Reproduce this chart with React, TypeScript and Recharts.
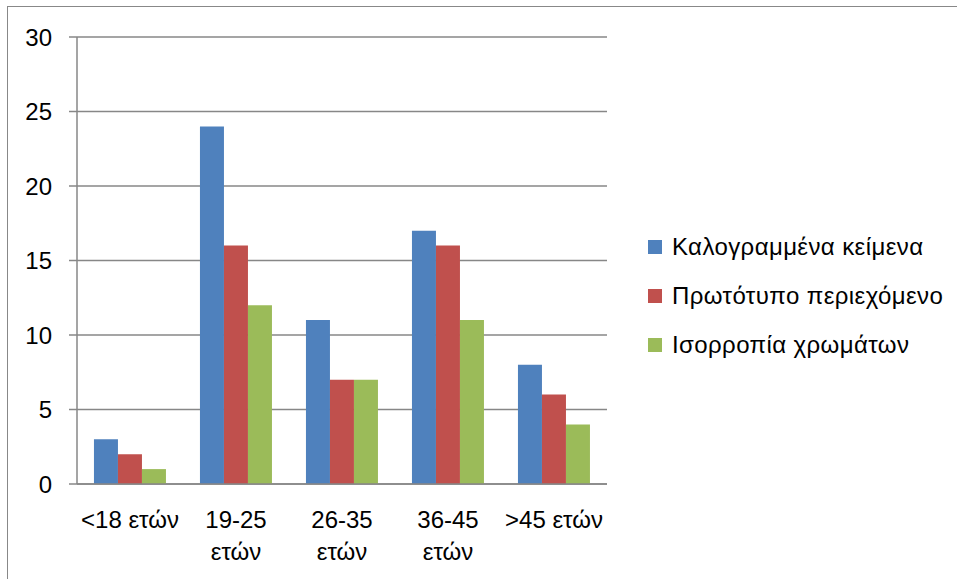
import React from "react";
import { BarChart, Bar, XAxis, YAxis, CartesianGrid, Legend } from "recharts";

const categories = ["<18 ετών", "19-25\nετών", "26-35\nετών", "36-45\nετών", ">45 ετών"];
const seriesNames = ["Καλογραμμένα κείμενα", "Πρωτότυπο περιεχόμενο", "Ισορροπία χρωμάτων"];
const kalligrafia = [3, 24, 11, 17, 8];
const prototypo = [2, 16, 7, 16, 6];
const isorropia = [1, 12, 7, 11, 4];
const yTicks = [0, 5, 10, 15, 20, 25, 30];
const boundaryTicks = [0, 1, 2, 3, 4, 5];
const colors = ["#4F81BD", "#C0504D", "#9BBB59"];

const data = categories.map((c, i) => ({
  cat: c,
  s0: kalligrafia[i],
  s1: prototypo[i],
  s2: isorropia[i],
}));

const FONT = "'Liberation Sans', Arial, sans-serif";
const GRID = "#878787";

const CatTick = (props: any) => {
  const { x, y, payload } = props;
  const lines = String(payload.value).split("\n");
  return (
    <text x={x} y={y} textAnchor="middle" fill="#000" fontSize={24} fontFamily={FONT}>
      {lines.map((l: string, i: number) => (
        <tspan key={i} x={x} y={y + 43 + i * 32}>
          {l}
        </tspan>
      ))}
    </text>
  );
};

const LegendContent = (props: any) => {
  const payload = [...(props.payload || [])].sort((a: any, b: any) =>
    String(a.dataKey).localeCompare(String(b.dataKey))
  );
  return (
    <div style={{ fontFamily: FONT, fontSize: 24, color: "#000", paddingLeft: 41, paddingTop: 13, letterSpacing: 0.4 }}>
      {payload.map((p: any, i: number) => (
        <div key={i} style={{ display: "flex", alignItems: "center", height: 49 }}>
          <span
            style={{ display: "inline-block", flexShrink: 0, width: 14, height: 14, background: p.color, marginRight: 10 }}
          />
          <span style={{ whiteSpace: "nowrap" }}>{p.value}</span>
        </div>
      ))}
    </div>
  );
};

export default function App() {
  return (
    <div style={{ position: "absolute", left: 0, top: 0, width: 957, height: 579, overflow: "hidden", background: "#fff" }}>
      <div
        style={{
          position: "absolute",
          left: 7,
          top: 6,
          width: 1000,
          height: 700,
          border: "1.5px solid #888",
          boxSizing: "border-box",
        }}
      />
      <div style={{ position: "absolute", left: 0, top: 0 }}>
        <BarChart
          width={957}
          height={579}
          data={data}
          margin={{ top: 37, right: 10, bottom: 0, left: 17 }}
          barCategoryGap="16%"
          barGap={0}
        >
          <CartesianGrid vertical={false} stroke={GRID} strokeWidth={1.5} />
          <XAxis
            xAxisId="b"
            type="number"
            domain={[0, 5]}
            ticks={boundaryTicks}
            height={1}
            tick={false}
            tickSize={8}
            stroke={GRID}
            axisLine={{ stroke: GRID, strokeWidth: 1.5 }}
            tickLine={{ stroke: GRID, strokeWidth: 1.5 }}
          />
          <XAxis
            dataKey="cat"
            xAxisId="cat"
            height={94}
            axisLine={false}
            tickLine={false}
            tickSize={0}
            tickMargin={0}
            interval={0}
            tick={<CatTick />}
          />
          <YAxis
            width={60}
            domain={[0, 30]}
            ticks={yTicks}
            interval={0}
            tickSize={8}
            tickMargin={17}
            axisLine={{ stroke: GRID, strokeWidth: 1.5 }}
            tickLine={{ stroke: GRID, strokeWidth: 1.5 }}
            tick={{ fill: "#000", fontSize: 24, fontFamily: FONT }}
          />
          <Legend
            content={<LegendContent />}
            layout="vertical"
            align="right"
            verticalAlign="middle"
            wrapperStyle={{ width: 340 }}
          />
          <Bar xAxisId="cat" dataKey="s0" name={seriesNames[0]} fill={colors[0]} isAnimationActive={false} />
          <Bar xAxisId="cat" dataKey="s1" name={seriesNames[1]} fill={colors[1]} isAnimationActive={false} />
          <Bar xAxisId="cat" dataKey="s2" name={seriesNames[2]} fill={colors[2]} isAnimationActive={false} />
        </BarChart>
      </div>
    </div>
  );
}
